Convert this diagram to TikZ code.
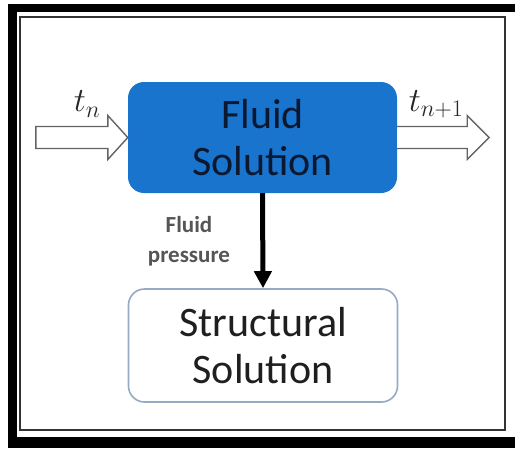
\documentclass[tikz,border=0pt]{standalone}
\usepackage{fix-cm}
\usepackage{fontspec}
\setmainfont{Carlito}
\usetikzlibrary{arrows.meta,calc}
\definecolor{fluidblue}{RGB}{24,116,204}
\definecolor{fluidtext}{RGB}{12,24,48}
\definecolor{structborder}{RGB}{150,170,196}
\definecolor{labelgray}{RGB}{85,85,85}
\definecolor{hollowgray}{RGB}{100,100,100}
\tikzset{
  solbox/.style={rounded corners=16pt, minimum width=269pt, minimum height=111pt, align=center, inner sep=0pt,
    font=\fontsize{42}{47}\selectfont},
  hollow/.style={draw=hollowgray, fill=white, line width=1.4pt, line join=miter},
  tlabel/.style={inner sep=0pt, text=black!85, font=\fontsize{34}{36}\selectfont}
}
\begin{document}
\begin{tikzpicture}[x=1pt,y=-1pt]
\useasboundingbox (0,0) rectangle (515,448);
\fill[white] (0,0) rectangle (515,448);
% outer frame
\fill[black] (8,4) rectangle (515,448);
\fill[white] (17,12) rectangle (515,437);
\draw[line width=1.5pt, black!80] (20,17) rectangle (505,430);
% boxes
\node[solbox, fill=fluidblue, text=fluidtext] (fluid) at (262.5,137.5) {Fluid\\Solution};
\node[solbox, draw=structborder, line width=1.6pt, fill=white, text=black!88, minimum height=113pt] (struct) at (263,345.5) {Structural\\Solution};
% coupling arrow
\draw[line width=5pt, -{Triangle[length=17pt,width=17pt]}] (fluid.south) -- (struct.north);
\node[font=\bfseries\fontsize{23}{30}\selectfont, text=labelgray, align=center, inner sep=0pt] (fp) at (189,241) {Fluid\\pressure};
% hollow arrows
\draw[hollow] ($(fluid.west)+(-92,-11)$) -- ($(fluid.west)+(-20,-11)$) -- ($(fluid.west)+(-20,-22)$) -- (fluid.west)
  -- ($(fluid.west)+(-20,22)$) -- ($(fluid.west)+(-20,11)$) -- ($(fluid.west)+(-92,11)$) -- cycle;
\draw[hollow] ($(fluid.east)+(0,-11)$) -- ($(fluid.east)+(70,-11)$) -- ($(fluid.east)+(70,-22)$) -- ($(fluid.east)+(92,0)$)
  -- ($(fluid.east)+(70,22)$) -- ($(fluid.east)+(70,11)$) -- ($(fluid.east)+(0,11)$);
\node[tlabel] (tn) at (87,104) {$t_n$};
\node[tlabel] (tn1) at (436,104) {$t_{n+1}$};
\end{tikzpicture}
\end{document}
